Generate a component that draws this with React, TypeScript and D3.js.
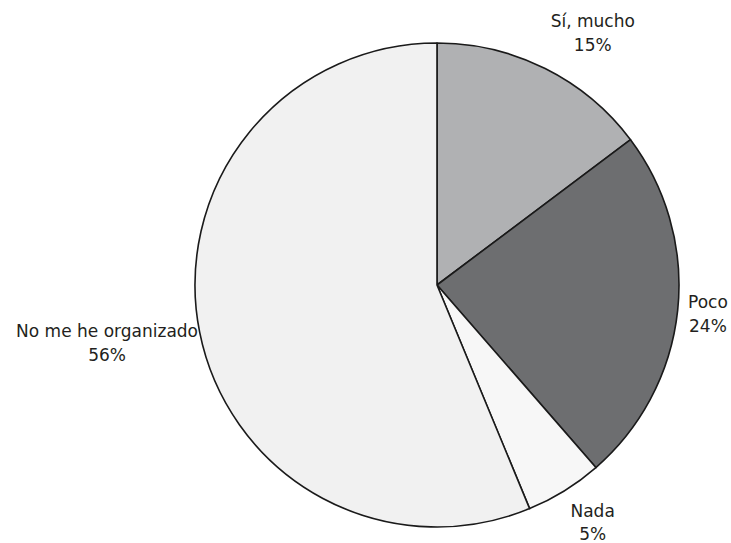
import React, { useMemo } from "react";
import * as d3 from "d3";

const categories = ["Sí, mucho", "Poco", "Nada", "No me he organizado"];
const values = [14.75, 23.85, 5.15, 56.25];
const percentLabels = ["15%", "24%", "5%", "56%"];
const colors = ["#b0b1b3", "#6d6e70", "#f7f7f7", "#f1f1f1"];

// layout constants for label placement (degrees shift from slice middle, distance from centre)
const labelAngleShift = [5.2, 0.1, -1.4, 1.3];
const labelDistance = [296, 272.5, 284.5, 335];

const W = 731;
const H = 543;
const cx = 437;
const cy = 285;
const R = 242;
const FONT = 17;
const LINE = 24;
const FAMILY = '"DejaVu Sans", sans-serif';

export default function App() {
  const arcs = useMemo(() => {
    const pie = d3.pie<number>().sort(null).value((d) => d);
    return pie(values);
  }, []);
  const arc = d3.arc<d3.PieArcDatum<number>>().innerRadius(0).outerRadius(R);

  return (
    <svg width={W} height={H} style={{ position: "absolute", left: 0, top: 0 }}>
      <rect width={W} height={H} fill="#ffffff" />
      <g transform={`translate(${cx},${cy})`}>
        {arcs.map((a, i) => (
          <path key={i} d={arc(a) || ""} fill={colors[i]} stroke="#1a1a1a" strokeWidth={1.6} strokeLinejoin="round" />
        ))}
        {arcs.map((a, i) => {
          const mid = (a.startAngle + a.endAngle) / 2 + (labelAngleShift[i] * Math.PI) / 180;
          const d = labelDistance[i];
          const x = Math.sin(mid) * d;
          const y = -Math.cos(mid) * d;
          const lh = i === 2 ? LINE - 1 : LINE;
          return (
            <text
              key={"t" + i}
              x={x}
              y={y}
              textAnchor="middle"
              fontFamily={FAMILY}
              fontSize={FONT}
              fill="#231f20"
            >
              <tspan x={x} y={y - 6}>{categories[i]}</tspan>
              <tspan x={x} y={y - 6 + lh}>{percentLabels[i]}</tspan>
            </text>
          );
        })}
      </g>
    </svg>
  );
}
